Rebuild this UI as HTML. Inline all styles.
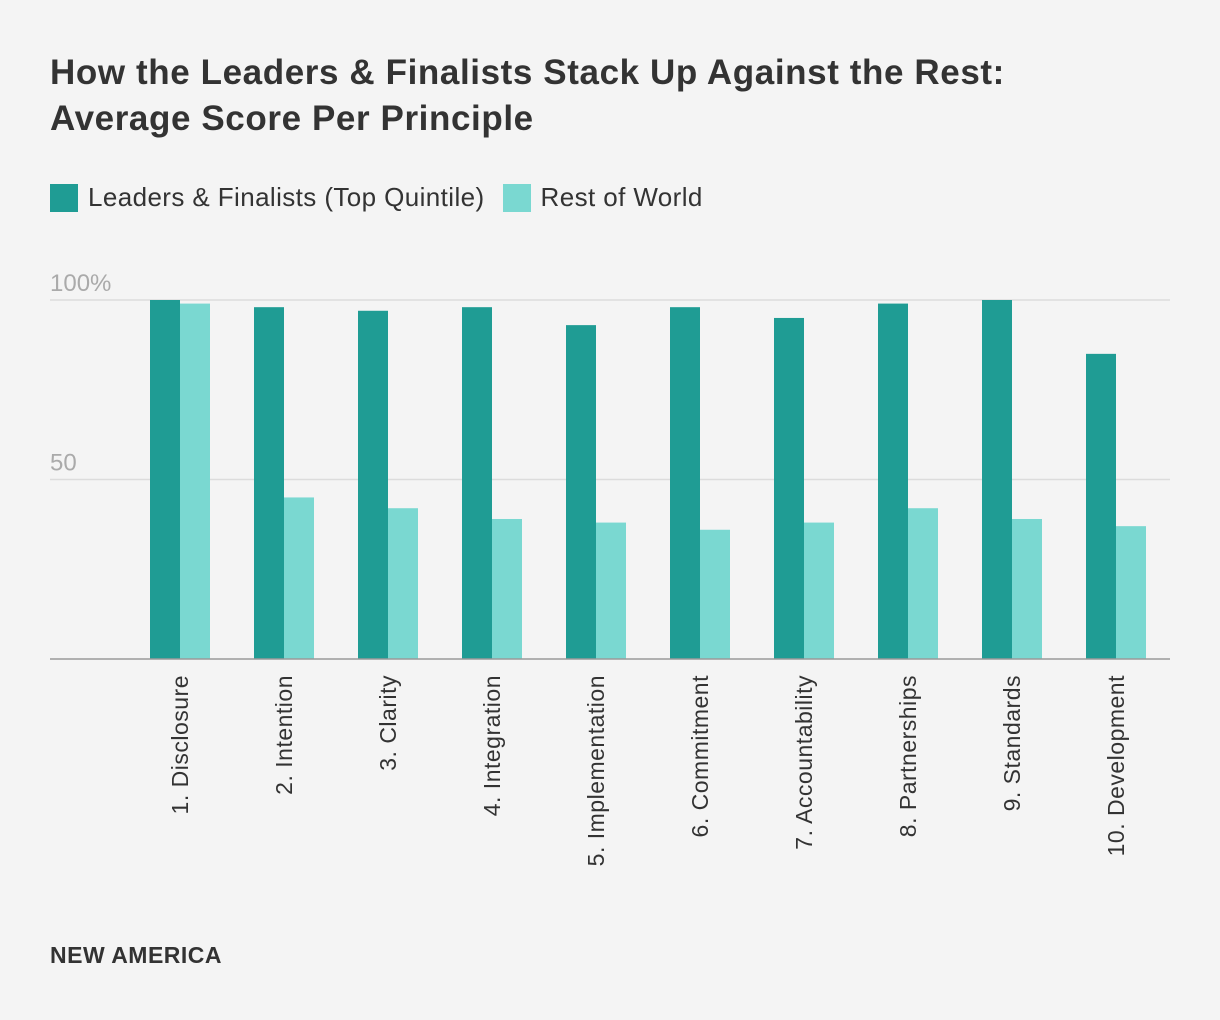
<!DOCTYPE html>
<html><head><meta charset="utf-8"><style>
html,body{margin:0;padding:0;background:#f4f4f4;}
body{width:1220px;height:1020px;position:relative;font-family:"Liberation Sans",sans-serif;overflow:hidden;}
h1{position:absolute;left:50px;top:50px;margin:0;font-size:35px;letter-spacing:0.6px;line-height:46px;font-weight:bold;color:#333;}
.legend{position:absolute;left:50px;top:182px;font-size:26px;letter-spacing:0.4px;color:#333;display:flex;align-items:center;}
.sw{display:inline-block;width:28px;height:28px;margin-right:10px;}
.foot{position:absolute;left:50px;top:942px;font-size:23px;letter-spacing:0.5px;font-weight:bold;color:#333;}
</style></head><body>
<h1>How the Leaders &amp; Finalists Stack Up Against the Rest:<br>Average Score Per Principle</h1>
<div class="legend">
<span class="sw" style="background:#1f9c94"></span><span>Leaders &amp; Finalists (Top Quintile)</span>
<span class="sw" style="background:#7ad8d1;margin-left:18px"></span><span>Rest of World</span>
</div>
<svg id="chart" width="1220" height="1020" style="position:absolute;left:0;top:0"></svg>
<div class="foot">NEW AMERICA</div>
<script>
const categories=["1. Disclosure","2. Intention","3. Clarity","4. Integration","5. Implementation","6. Commitment","7. Accountability","8. Partnerships","9. Standards","10. Development"];
const leaders=[100,98,97,98,93,98,95,99,100,85];
const rest=[99,45,42,39,38,36,38,42,39,37];
const ticks=[50,100];
const tickLabels=["50","100%"];
const NS="http://www.w3.org/2000/svg";
const svg=document.getElementById('chart');
const y=v=>659-v*3.59;
const cx=i=>180+i*104;
function mk(t,a){const e=document.createElementNS(NS,t);for(const k in a)e.setAttribute(k,a[k]);svg.appendChild(e);return e;}
ticks.forEach((t,i)=>{
 const l=mk('line',{x1:50,x2:1170,y1:y(t),y2:y(t),stroke:'#dcdcdc','stroke-width':1.5});
 
 
 const tx=mk('text',{x:50,y:y(t)-9,'font-size':24,fill:'#aaa','font-family':'Liberation Sans, sans-serif'});
 tx.textContent=tickLabels[i];
 
 
});
categories.forEach((c,i)=>{
 const b1=mk('rect',{x:cx(i)-30,y:y(leaders[i]),width:30,height:y(0)-y(leaders[i]),fill:'#1f9c94'});
 
 
 const b2=mk('rect',{x:cx(i),y:y(rest[i]),width:30,height:y(0)-y(rest[i]),fill:'#7ad8d1'});
 
 
 const t=mk('text',{transform:`translate(${cx(i)+8},675) rotate(-90)`,'text-anchor':'end','font-size':23,'letter-spacing':0.5,fill:'#333','font-family':'Liberation Sans, sans-serif'});
 t.textContent=c;
 
 
});
const ax=mk('line',{x1:50,x2:1170,y1:y(0),y2:y(0),stroke:'#999','stroke-width':1.5});


</script>
</body></html>
